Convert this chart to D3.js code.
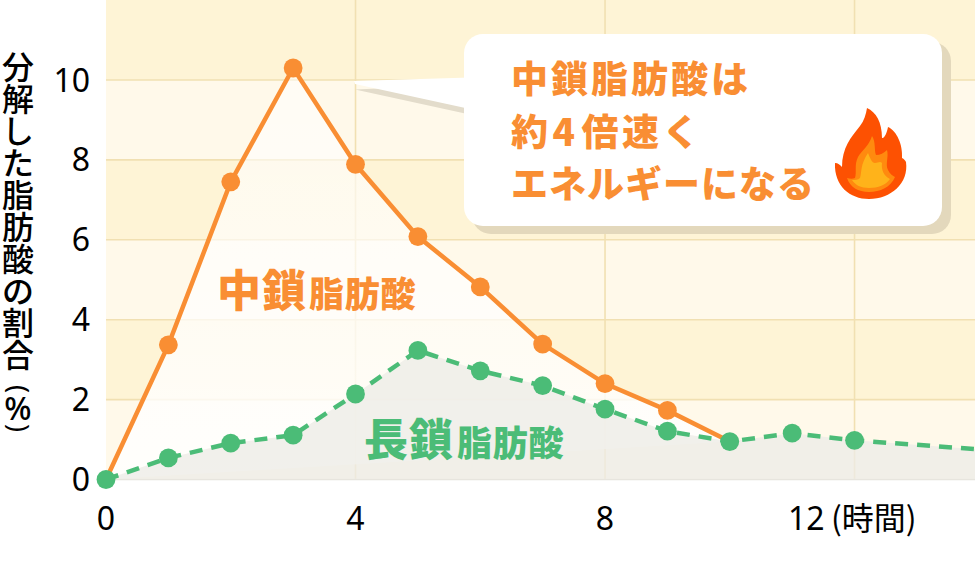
<!DOCTYPE html>
<html><head><meta charset="utf-8">
<style>html,body{margin:0;padding:0;background:#fff}svg{display:block}
text{font-family:"Noto Sans","Noto Sans CJK JP",sans-serif}</style>
<script src="https://cdn.jsdelivr.net/npm/d3@7"></script></head><body>
<svg id="c" width="980" height="570"></svg>
<script>
const hoursMct=[0,1,2,3,4,5,6,7,8,9,10];
const mct=[0,3.37,7.45,10.3,7.89,6.08,4.82,3.39,2.4,1.73,0.95];
const hoursLct=[0,1,2,3,4,5,6,7,8,9,10,11,12,13.95];
const lct=[0,0.54,0.91,1.11,2.14,3.23,2.72,2.35,1.76,1.21,0.95,1.16,0.98,0.76];
const lctMarked=13; // the last value runs off without a marker
const yTicks=[0,2,4,6,8,10];
const xTicks=[0,4,8,12];
const yTitleChars=Array.from("分解した脂肪酸の割合");
const calloutLines=["中鎖脂肪酸は","約4倍速く","エネルギーになる"];

const svg=d3.select("#c");
const x=d3.scaleLinear().domain([0,14]).range([106,979.3]);
const y=d3.scaleLinear().domain([0,10]).range([479.5,80]);
const plotRight=975;
const ORANGE="#f98e33",GREEN="#4bbc77",GRID="#f1e0b2";
const JP='"Noto Sans CJK JP"';
const defs=svg.append("defs");
const g=defs.append("linearGradient").attr("id","wg").attr("x1",0).attr("x2",0).attr("y1",0).attr("y2",1);
g.append("stop").attr("offset","0").attr("stop-color","#fff").attr("stop-opacity",.5);
g.append("stop").attr("offset","1").attr("stop-color","#fff").attr("stop-opacity",.85);

// alternating bands
const bands=[[10,12.03,"#fef4d6"],[8,10,"#fff9ea"],[6,8,"#fef4d6"],[4,6,"#fff9ea"],[2,4,"#fef4d6"],[0,2,"#fff9ea"]];
svg.selectAll(".band").data(bands).join("rect")
 .attr("x",x(0)).attr("width",plotRight-x(0))
 .attr("y",d=>Math.max(0,y(d[1]))).attr("height",d=>y(d[0])-Math.max(0,y(d[1]))).attr("fill",d=>d[2]);
// grid
svg.selectAll(".gy").data(yTicks.slice(1)).join("line")
 .attr("x1",x(0)).attr("x2",plotRight).attr("y1",d=>y(d)).attr("y2",d=>y(d))
 .attr("stroke",GRID).attr("stroke-width",1.6);
svg.selectAll(".gx").data(xTicks.slice(1)).join("line")
 .attr("x1",d=>x(d)).attr("x2",d=>x(d)).attr("y1",0).attr("y2",y(0))
 .attr("stroke",GRID).attr("stroke-width",1.6);
svg.append("line").attr("x1",x(0)).attr("x2",plotRight).attr("y1",y(0)).attr("y2",y(0)).attr("stroke","#e4e1da").attr("stroke-width",1.5);

const pm=hoursMct.map((h,i)=>[h,mct[i]]);
const pl=hoursLct.map((h,i)=>[h,lct[i]]);
const line=d3.line().x(d=>x(d[0])).y(d=>y(d[1]));
const area=d3.area().x(d=>x(d[0])).y0(y(0)).y1(d=>y(d[1]));
// light area: the medium-chain path closed straight back to its start
svg.append("path").attr("d",line(pm)+"Z").attr("fill","url(#wg)");
// grey area below the long-chain curve
svg.append("path").attr("d",area(pl.concat([[x.invert(plotRight),lct[lct.length-1]]]))).attr("fill","#edece7").attr("fill-opacity",.78);

// callout
const cb=svg.append("g");
cb.append("path").attr("d","M355 89.5 L472 115 L472 100 L378 88.5 Z").attr("fill","#e3dccb");
cb.append("rect").attr("x",472).attr("y",42).attr("width",479).attr("height",192).attr("rx",19).attr("fill","#e3d8bc");
cb.append("path").attr("d","M354 81 L470 77.5 L470 109 L378 89 L355 84 Z").attr("fill","#fff");
cb.append("rect").attr("x",464).attr("y",34).attr("width",478).attr("height",192).attr("rx",19).attr("fill","#fff");
const lineSpacing=[3,3.5,1];
cb.selectAll("text").data(calloutLines).join("text")
 .attr("x",511).attr("y",(d,i)=>93+i*52.5).attr("fill",ORANGE)
 .attr("font-size",37).attr("font-weight",900)
 .attr("letter-spacing",(d,i)=>lineSpacing[i])
 .attr("dx",(d,i)=>i===1?"0 1 3 0 0":null)
 .style("font-family",JP).text(d=>d);

// flame
const f=svg.append("g");
f.append("path").attr("fill","#fd5102").attr("d","M867 108 C876 112 882 122 882 138 C884 139 887 133 888 127 C897 131 903 145 902 158 C904 159 905 160 906 162 C909 183 891 199 869 199 C850 199 834 186 835 163 C838 163 840 165 842 167 C842 148 851 137 860 126 C864 121 866 114 867 108 Z");
f.append("path").attr("fill","#ff8a0f").attr("d","M872 136 C876 142 874 150 876 155 C880 155 884 153 887 150 C889 157 885 164 888 170 C890 174 893 176 895 177 C891 187 880 192 869 192 C858 192 850 187 847 178 C850 179 853 179 855 178 C857 172 854 165 858 157 C862 150 869 146 872 136 Z");
f.append("path").attr("fill","#ffb31a").attr("d","M868 153 C870 158 872 163 875 163 C878 163 880 161 882 163 C881 170 884 176 890 179 C886 185 878 188 869 188 C861 188 855 185 852 180 C855 180 858 180 860 178 C862 172 860 165 868 153 Z");

// series
svg.append("path").attr("d",line(pm)).attr("fill","none").attr("stroke",ORANGE).attr("stroke-width",4.5);
svg.selectAll(".m").data(pm.slice(1,10)).join("circle").attr("cx",d=>x(d[0])).attr("cy",d=>y(d[1])).attr("r",9.4).attr("fill",ORANGE);
svg.append("path").attr("d",line(pl)).attr("fill","none").attr("stroke",GREEN).attr("stroke-width",4.5).attr("stroke-dasharray","13 9");
svg.selectAll(".l").data(pl.slice(0,lctMarked)).join("circle").attr("cx",d=>x(d[0])).attr("cy",d=>y(d[1])).attr("r",9.4).attr("fill",GREEN);

// series labels
function lab(px,py,c,a,b,dx){
 const t=svg.append("text").attr("x",px).attr("y",py).attr("fill",c).attr("font-weight",900).style("font-family",JP);
 t.append("tspan").attr("font-size",44).attr("letter-spacing",1).text(a);
 t.append("tspan").attr("font-size",35).attr("letter-spacing",.8).attr("dx",dx).text(b);
}
lab(217,307,ORANGE,"中鎖","脂肪酸",2);
lab(364,456,GREEN,"長鎖","脂肪酸",3);

// axis labels
svg.selectAll(".yt").data(yTicks).join("text").attr("x",90).attr("y",d=>y(d)+11.5).attr("text-anchor","end").attr("font-size",32).attr("fill","#000").text(d=>d);
svg.selectAll(".xt").data(xTicks.slice(0,3)).join("text").attr("x",d=>x(d)).attr("y",530).attr("text-anchor","middle").attr("font-size",32).attr("fill","#000").text(d=>d);
svg.append("text").attr("x",788).attr("y",530).attr("font-size",32).attr("fill","#000").text(xTicks[3]);
svg.append("text").attr("x",831).attr("y",530).attr("font-size",32).attr("fill","#000").style("font-family",JP).text("(時間)");

// y title, one text element with each glyph placed vertically
const TY=52,TP=32;
svg.append("text").attr("x",yTitleChars.map(()=>2).join(" ")).attr("y",yTitleChars.map((d,i)=>TY+i*TP+27).join(" "))
 .attr("font-size",32).attr("font-weight",500).style("font-family",JP).attr("fill","#000").text(yTitleChars.join(""));
svg.append("text").attr("transform","translate(18,389) rotate(90)").attr("text-anchor","middle").attr("dy",9).attr("font-size",27).attr("fill","#000").text("(");
svg.append("text").attr("x",18).attr("y",420).attr("text-anchor","middle").attr("font-size",32).attr("font-weight",500).attr("fill","#000").text("%");
svg.append("text").attr("transform","translate(18,428) rotate(90)").attr("text-anchor","middle").attr("dy",9).attr("font-size",27).attr("fill","#000").text(")");
</script></body></html>
